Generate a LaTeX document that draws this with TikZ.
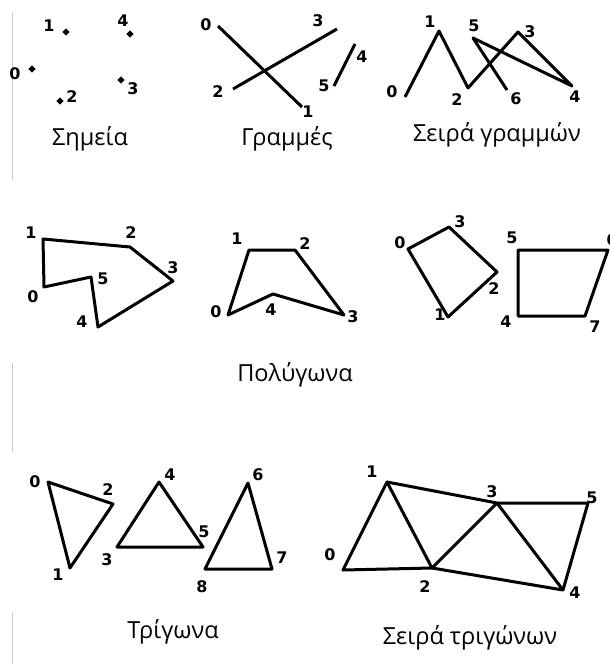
\documentclass[tikz,border=0pt]{standalone}
\usepackage{fontspec}
\setmainfont{Open Sans}
\newfontfamily\numfont{DejaVu Sans}[BoldFont={DejaVu Sans Bold}]
\usetikzlibrary{shapes.geometric, positioning}

\begin{document}
\begin{tikzpicture}[
          x=1pt, y=-1pt,
          edge/.style={draw=black, line width=3pt, line join=round},
          ptmark/.style={diamond, fill=black, minimum size=7.5pt, inner sep=0pt},
          numlabel/.style={font=\numfont\bfseries\fontsize{16}{16}\selectfont, inner sep=0pt},
          caption/.style={font=\fontsize{23.5}{26}\selectfont, inner sep=0pt},
          margin/.style={draw=gray!45, line width=0.8pt}
        ]
          \useasboundingbox (0,0) rectangle (610,664);

          % Margin rules
          \coordinate (m1) at (12,13);  \coordinate (m2) at (12,180);
          \coordinate (m3) at (12,363); \coordinate (m4) at (12,452);
          \coordinate (m5) at (12,613); \coordinate (m6) at (12,664);
          \draw[margin] (m1) -- (m2);
          \draw[margin] (m3) -- (m4);
          \draw[margin] (m5) -- (m6);

          % Points
          \node[ptmark] (p0) at (32,69) {};
          \node[ptmark] (p1) at (66,32) {};
          \node[ptmark] (p2) at (60,101) {};
          \node[ptmark] (p3) at (121,80) {};
          \node[ptmark] (p4) at (130,34) {};
          \node[numlabel] (lp0) at (15,74) {0};
          \node[numlabel] (lp1) at (49,26) {1};
          \node[numlabel] (lp2) at (72,97) {2};
          \node[numlabel] (lp3) at (133,89) {3};
          \node[numlabel] (lp4) at (123,21) {4};
          \node[caption] (cap-points) at (90,139) {Σημεία};

          % Lines
          \coordinate (g0) at (218,26);
          \coordinate (g1) at (302,107);
          \coordinate (g2) at (233,89);
          \coordinate (g3) at (337,29);
          \coordinate (g4) at (355,44);
          \coordinate (g5) at (334,86);
          \draw[edge] (g0) -- (g1);
          \draw[edge] (g2) -- (g3);
          \draw[edge] (g4) -- (g5);
          \node[numlabel] (lg0) at (206,25) {0};
          \node[numlabel] (lg1) at (308,112) {1};
          \node[numlabel] (lg2) at (218,92) {2};
          \node[numlabel] (lg3) at (318,21) {3};
          \node[numlabel] (lg4) at (362,57) {4};
          \node[numlabel] (lg5) at (324,86) {5};
          \node[caption] (cap-lines) at (287,139) {Γραμμές};

          % Line strip
          \coordinate (s0) at (405,97);
          \coordinate (s1) at (439,31);
          \coordinate (s2) at (468,88);
          \coordinate (s3) at (518,32);
          \coordinate (s4) at (572,86);
          \coordinate (s5) at (473,38);
          \coordinate (s6) at (507,90);
          \draw[edge] (s0) -- (s1) -- (s2) -- (s3) -- (s4) -- (s5) -- (s6);
          \node[numlabel] (ls0) at (392,92) {0};
          \node[numlabel] (ls1) at (430,22) {1};
          \node[numlabel] (ls2) at (457,100) {2};
          \node[numlabel] (ls3) at (530,32) {3};
          \node[numlabel] (ls4) at (575,97) {4};
          \node[numlabel] (ls5) at (474,26) {5};
          \node[numlabel] (ls6) at (516,99) {6};
          \node[caption] (cap-strip) at (497,135) {Σειρά γραμμών};

          % Polygon A
          \coordinate (pa0) at (44,287);
          \coordinate (pa1) at (43,239);
          \coordinate (pa2) at (130,247);
          \coordinate (pa3) at (173,281);
          \coordinate (pa4) at (98,327);
          \coordinate (pa5) at (91,277);
          \draw[edge] (pa0) -- (pa1) -- (pa2) -- (pa3) -- (pa4) -- (pa5) -- cycle;
          \node[numlabel] (lpa0) at (33,297) {0};
          \node[numlabel] (lpa1) at (31,233) {1};
          \node[numlabel] (lpa2) at (131,233) {2};
          \node[numlabel] (lpa3) at (173,268) {3};
          \node[numlabel] (lpa4) at (82,322) {4};
          \node[numlabel] (lpa5) at (103,279) {5};

          % Polygon B
          \coordinate (pb0) at (228,315);
          \coordinate (pb1) at (249,250);
          \coordinate (pb2) at (295,250);
          \coordinate (pb3) at (344,315);
          \coordinate (pb4) at (273,294);
          \draw[edge] (pb0) -- (pb1) -- (pb2) -- (pb3) -- (pb4) -- cycle;
          \node[numlabel] (lpb0) at (216,312) {0};
          \node[numlabel] (lpb1) at (237,239) {1};
          \node[numlabel] (lpb2) at (305,244) {2};
          \node[numlabel] (lpb3) at (353,317) {3};
          \node[numlabel] (lpb4) at (271,310) {4};

          % Quads
          \coordinate (pc0) at (408,249);
          \coordinate (pc1) at (448,317);
          \coordinate (pc2) at (497,272);
          \coordinate (pc3) at (449,227);
          \draw[edge] (pc0) -- (pc1) -- (pc2) -- (pc3) -- cycle;
          \coordinate (pd4) at (518,316);
          \coordinate (pd5) at (518,250);
          \coordinate (pd6) at (608,250);
          \coordinate (pd7) at (585,316);
          \draw[edge] (pd4) -- (pd5) -- (pd6) -- (pd7) -- cycle;
          \node[numlabel] (lpc0) at (400,243) {0};
          \node[numlabel] (lpc1) at (440,315) {1};
          \node[numlabel] (lpc2) at (494,289) {2};
          \node[numlabel] (lpc3) at (460,222) {3};
          \node[numlabel] (lpd4) at (506,322) {4};
          \node[numlabel] (lpd5) at (512,238) {5};
          \node[numlabel] (lpd6) at (612,240) {6};
          \node[numlabel] (lpd7) at (595,327) {7};
          \node[caption] (cap-polygons) at (295,375) {Πολύγωνα};

          % Triangles
          \coordinate (t0) at (48,482);
          \coordinate (t1) at (70,568);
          \coordinate (t2) at (113,504);
          \coordinate (t3) at (117,547);
          \coordinate (t4) at (159,482);
          \coordinate (t5) at (203,547);
          \coordinate (t6) at (248,483);
          \coordinate (t7) at (272,569);
          \coordinate (t8) at (205,569);
          \draw[edge] (t0) -- (t1) -- (t2) -- cycle;
          \draw[edge] (t3) -- (t4) -- (t5) -- cycle;
          \draw[edge] (t6) -- (t7) -- (t8) -- cycle;
          \node[numlabel] (lt0) at (35,482) {0};
          \node[numlabel] (lt1) at (58,575) {1};
          \node[numlabel] (lt2) at (108,490) {2};
          \node[numlabel] (lt3) at (107,560) {3};
          \node[numlabel] (lt4) at (170,475) {4};
          \node[numlabel] (lt5) at (204,532) {5};
          \node[numlabel] (lt6) at (258,475) {6};
          \node[numlabel] (lt7) at (282,558) {7};
          \node[numlabel] (lt8) at (202,587) {8};
          \node[caption] (cap-triangles) at (173,632) {Τρίγωνα};

          % Triangle strip
          \coordinate (ts0) at (343,570);
          \coordinate (ts1) at (387,482);
          \coordinate (ts2) at (432,568);
          \coordinate (ts3) at (497,503);
          \coordinate (ts4) at (563,590);
          \coordinate (ts5) at (588,503);
          \draw[edge] (ts0) -- (ts1) -- (ts2) -- cycle;
          \draw[edge] (ts1) -- (ts3) -- (ts2);
          \draw[edge] (ts2) -- (ts4) -- (ts3);
          \draw[edge] (ts3) -- (ts5) -- (ts4);
          \node[numlabel] (lts0) at (330,555) {0};
          \node[numlabel] (lts1) at (372,472) {1};
          \node[numlabel] (lts2) at (425,587) {2};
          \node[numlabel] (lts3) at (492,492) {3};
          \node[numlabel] (lts4) at (575,593) {4};
          \node[numlabel] (lts5) at (592,498) {5};
          \node[caption] (cap-tristrip) at (470,638) {Σειρά τριγώνων};
        \end{tikzpicture}
\end{document}
